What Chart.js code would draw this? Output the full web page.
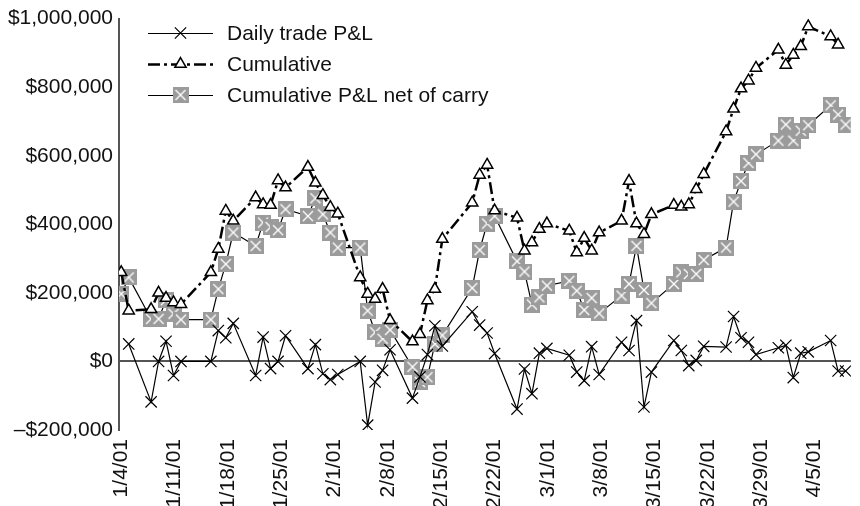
<!DOCTYPE html>
<html>
<head>
<meta charset="utf-8">
<script src="https://cdn.jsdelivr.net/npm/chart.js@4.4.1/dist/chart.umd.min.js"></script>
<style>
  html, body { margin: 0; padding: 0; background: #fff; }
  #wrap { width: 860px; height: 506px; overflow: hidden; }
  canvas { display: block; }
</style>
</head>
<body>
<div id="wrap"><canvas id="pnlChart" width="860" height="520"></canvas></div>
<script>
const tickLabels = ['1/4/01', '1/11/01', '1/18/01', '1/25/01', '2/1/01', '2/8/01', '2/15/01',
  '2/22/01', '3/1/01', '3/8/01', '3/15/01', '3/22/01', '3/29/01', '4/5/01'];

const tradeDates = [
  '1/4/01', '1/5/01', '1/8/01', '1/9/01', '1/10/01', '1/11/01', '1/12/01',
  '1/16/01', '1/17/01', '1/18/01', '1/19/01',
  '1/22/01', '1/23/01', '1/24/01', '1/25/01', '1/26/01',
  '1/29/01', '1/30/01', '1/31/01', '2/1/01', '2/2/01',
  '2/5/01', '2/6/01', '2/7/01', '2/8/01', '2/9/01',
  '2/12/01', '2/13/01', '2/14/01', '2/15/01', '2/16/01',
  '2/20/01', '2/21/01', '2/22/01', '2/23/01',
  '2/26/01', '2/27/01', '2/28/01', '3/1/01', '3/2/01',
  '3/5/01', '3/6/01', '3/7/01', '3/8/01', '3/9/01',
  '3/12/01', '3/13/01', '3/14/01', '3/15/01', '3/16/01',
  '3/19/01', '3/20/01', '3/21/01', '3/22/01', '3/23/01',
  '3/26/01', '3/27/01', '3/28/01', '3/29/01', '3/30/01',
  '4/2/01', '4/3/01', '4/4/01', '4/5/01', '4/6/01',
  '4/9/01', '4/10/01', '4/11/01'
];

const dailyPnl = [
  null, 51000, -118000, 0, 59000, -41000, 0,
  0, 90000, 69000, 111000,
  -41000, 71000, -21000, 0, 75000,
  -21000, 49000, -36000, -53000, -38000,
  0, -186000, -60000, -26000, 34000,
  -107000, -45000, 20000, 104000, 45000,
  145000, 106000, 83000, 23000,
  -139000, -22000, -94000, 24000, 38000,
  18000, -31000, -56000, 43000, -38000,
  56000, 32000, 119000, -133000, -31000,
  61000, 32000, -12000, 3000, 44000,
  42000, 131000, 69000, 56000, 20000,
  40000, 47000, -47000, 24000, 28000,
  61000, -28000, -28000
];

const cumulativePnl = [
  260000, 148000, 152000, 200000, 185000, 172000, 167000,
  260000, 328000, 439000, 410000,
  478000, 458000, 456000, 528000, 507000,
  567000, 521000, 485000, 450000, 431000,
  245000, 197000, 182000, 211000, 120000,
  58000, 79000, 178000, 211000, 357000,
  463000, 544000, 573000, 440000,
  419000, 323000, 347000, 386000, 402000,
  381000, 318000, 360000, 323000, 376000,
  410000, 526000, 402000, 371000, 429000,
  456000, 451000, 458000, 502000, 546000,
  671000, 737000, 796000, 819000, 856000,
  909000, 865000, 894000, 919000, 977000,
  948000, 924000, null
];

const netOfCarry = [
  197000, 245000, 124000, 124000, 179000, 139000, 122000,
  122000, 211000, 284000, 376000,
  337000, 405000, 392000, 383000, 444000,
  424000, 476000, 429000, 376000, 332000,
  332000, 148000, 85000, 66000, 92000,
  -16000, -60000, -46000, 51000, 76000,
  214000, 325000, 402000, 424000,
  292000, 262000, 166000, 187000, 221000,
  235000, 206000, 150000, 185000, 140000,
  192000, 226000, 337000, 208000, 170000,
  226000, 260000, 255000, 255000, 296000,
  332000, 466000, 526000, 579000, 604000,
  644000, 691000, 644000, 673000, 689000,
  747000, 720000, 691000
];

const FONT = "'Liberation Sans', Arial, Helvetica, sans-serif";
// spacing of the weekly date labels along the axis, in days
const labelStep = 7.14;

// days since the first label date, so weekends and holidays leave gaps
function dayIndex(label) {
  const [m, d, y] = label.split('/').map(Number);
  const [m0, d0, y0] = tickLabels[0].split('/').map(Number);
  return (Date.UTC(2000 + y, m - 1, d) - Date.UTC(2000 + y0, m0 - 1, d0)) / 86400000;
}

function toPoints(values) {
  return tradeDates.map((t, i) => ({ x: dayIndex(t), y: values[i] }));
}

// grey box with a white cross for the net-of-carry series
function boxCross(size) {
  const c = document.createElement('canvas');
  c.width = size; c.height = size;
  const g = c.getContext('2d');
  g.fillStyle = '#9b9b9b';
  g.fillRect(0, 0, size, size);
  g.strokeStyle = '#fff';
  g.lineWidth = 1.4;
  g.beginPath();
  g.moveTo(3, 3); g.lineTo(size - 3, size - 3);
  g.moveTo(size - 3, 3); g.lineTo(3, size - 3);
  g.stroke();
  return c;
}
const boxMarker = boxCross(16);

function money(v) {
  const s = '$' + Math.abs(v).toLocaleString('en-US');
  return v < 0 ? '\u2013' + s : s;
}

// legend drawn as line + marker + text, like the source spreadsheet
const lineLegend = {
  id: 'lineLegend',
  afterDraw(chart) {
    const ctx = chart.ctx;
    const x0 = 148, x1 = 213, tx = 227;
    const rows = [33, 64, 95];
    chart.data.datasets.forEach((ds, i) => {
      const y = rows[i];
      ctx.save();
      ctx.strokeStyle = ds.borderColor;
      ctx.lineWidth = ds.borderWidth;
      ctx.setLineDash(ds.borderDash || []);
      ctx.beginPath();
      ctx.moveTo(x0, y + 0.5);
      ctx.lineTo(x1, y + 0.5);
      ctx.stroke();
      ctx.setLineDash([]);
      ctx.fillStyle = ds.pointBackgroundColor;
      ctx.strokeStyle = ds.pointBorderColor;
      ctx.lineWidth = ds.pointBorderWidth;
      Chart.helpers.drawPoint(ctx, {
        pointStyle: ds.pointStyle, radius: ds.pointRadius, rotation: 0, borderWidth: ds.pointBorderWidth
      }, (x0 + x1) / 2, y);
      ctx.fillStyle = '#111';
      ctx.font = '21px ' + FONT;
      ctx.textBaseline = 'middle';
      ctx.fillText(ds.label, tx, y + 1);
      ctx.restore();
    });
  }
};

new Chart(document.getElementById('pnlChart'), {
  type: 'line',
  data: {
    datasets: [
      {
        label: 'Daily trade P&L',
        data: toPoints(dailyPnl),
        borderColor: '#000',
        borderWidth: 1.2,
        pointStyle: 'crossRot',
        pointRadius: 8,
        pointBorderWidth: 1.2,
        pointBorderColor: '#000',
        pointBackgroundColor: '#000'
      },
      {
        label: 'Cumulative',
        data: toPoints(cumulativePnl),
        borderColor: '#000',
        borderWidth: 2.5,
        borderDash: [12, 4, 3, 4],
        pointStyle: 'triangle',
        pointRadius: 6.5,
        pointBorderWidth: 1.5,
        pointBorderColor: '#000',
        pointBackgroundColor: '#fff'
      },
      {
        label: 'Cumulative P&L net of carry',
        data: toPoints(netOfCarry),
        borderColor: '#000',
        borderWidth: 1.2,
        pointStyle: boxMarker,
        pointRadius: 8,
        pointBorderWidth: 0,
        pointBorderColor: '#9b9b9b',
        pointBackgroundColor: '#9b9b9b'
      }
    ]
  },
  options: {
    responsive: false,
    animation: false,
    events: [],
    layout: { padding: { top: 17, left: 4, right: 4, bottom: 0 } },
    plugins: {
      legend: { display: false },
      tooltip: { enabled: false }
    },
    scales: {
      x: {
        type: 'linear',
        min: -0.3,
        max: 97.7,
        afterBuildTicks: (scale) => {
          scale.ticks = tickLabels.map((t, i) => ({ value: i * labelStep }));
        },
        afterFit: (scale) => { scale.height = 90; },
        grid: { display: false },
        border: { display: false },
        ticks: {
          autoSkip: false,
          maxRotation: 90,
          minRotation: 90,
          padding: 1,
          color: '#111',
          font: { family: FONT, size: 21 },
          callback: (value, index) => tickLabels[index]
        }
      },
      y: {
        min: -200000,
        max: 1000000,
        afterFit: (scale) => { scale.width = 115; },
        ticks: {
          stepSize: 200000,
          padding: 6,
          color: '#111',
          font: { family: FONT, size: 21 },
          callback: (v) => money(v)
        },
        grid: {
          drawTicks: false,
          lineWidth: 2,
          color: (ctx) => ctx.tick && ctx.tick.value === 0 ? '#555' : 'rgba(0,0,0,0)'
        },
        border: { display: true, color: '#555', width: 2 }
      }
    }
  },
  plugins: [lineLegend]
});
</script>
</body>
</html>
